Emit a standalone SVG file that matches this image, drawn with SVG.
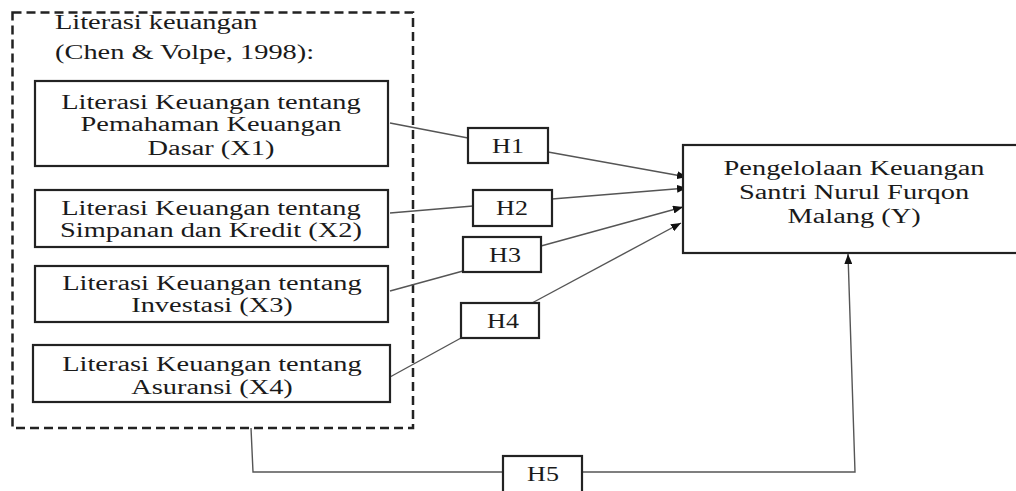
<svg xmlns="http://www.w3.org/2000/svg" width="1016" height="491" viewBox="0 0 1016 491">
<defs>
<style>
text{font-family:"Liberation Serif","Times New Roman",serif;font-size:20px;fill:#1a1a1a;text-anchor:middle;}
text.l{text-anchor:start;}
.box{fill:#fff;stroke:#222;stroke-width:2.2;}
.dash{fill:none;stroke:#222;stroke-width:2.5;stroke-dasharray:9 5;}
.con{fill:none;stroke:#555;stroke-width:1.4;}
</style>
<marker id="arr" viewBox="0 0 10 8" refX="10" refY="4" markerWidth="10" markerHeight="8" markerUnits="userSpaceOnUse" orient="auto">
<path d="M0,0 L10,4 L0,8 Z" fill="#111"/>
</marker>
</defs>
<rect width="1016" height="491" fill="#fff"/>

<g id="group-literasi">
<rect class="dash" x="12.5" y="12.5" width="400.5" height="415.5"/>
<g transform="translate(55,0) scale(1.42,1)">
<text class="l" x="0" y="29">Literasi keuangan</text>
<text class="l" x="0" y="59">(Chen &amp; Volpe, 1998):</text>
</g>
</g>

<g id="connectors">
<polyline class="con" points="390,123 468,138"/>
<polyline class="con" points="548,152 687,177" marker-end="url(#arr)"/>
<polyline class="con" points="390,213 473,206"/>
<polyline class="con" points="552,199 687,188" marker-end="url(#arr)"/>
<polyline class="con" points="390,291 463,271"/>
<polyline class="con" points="541,246 683,207" marker-end="url(#arr)"/>
<polyline class="con" points="390,377 461,338"/>
<polyline class="con" points="532,303 681,223" marker-end="url(#arr)"/>
<polyline class="con" points="251,428 253,472 503,472"/>
<polyline class="con" points="582,472 855,472 848,254" marker-end="url(#arr)"/>
</g>

<g id="x1">
<rect class="box" x="35" y="81" width="353" height="85"/>
<g transform="translate(211,0) scale(1.42,1)">
<text x="0" y="109">Literasi Keuangan tentang</text>
<text x="0" y="131">Pemahaman Keuangan</text>
<text x="0" y="155">Dasar (X1)</text>
</g>
</g>

<g id="x2">
<rect class="box" x="35" y="190" width="353" height="57"/>
<g transform="translate(211,0) scale(1.42,1)">
<text x="0" y="215">Literasi Keuangan tentang</text>
<text x="0" y="237">Simpanan dan Kredit (X2)</text>
</g>
</g>

<g id="x3">
<rect class="box" x="35" y="266" width="353" height="56"/>
<g transform="translate(212,0) scale(1.42,1)">
<text x="0" y="290">Literasi Keuangan tentang</text>
<text x="0" y="312">Investasi (X3)</text>
</g>
</g>

<g id="x4">
<rect class="box" x="33" y="345" width="357" height="57"/>
<g transform="translate(212,0) scale(1.42,1)">
<text x="0" y="371">Literasi Keuangan tentang</text>
<text x="0" y="394">Asuransi (X4)</text>
</g>
</g>

<g id="h1">
<rect class="box" x="468" y="128" width="80" height="35"/>
<g transform="translate(508,0) scale(1.3,1)"><text x="0" y="153">H1</text></g>
</g>
<g id="h2">
<rect class="box" x="473" y="190" width="79" height="36"/>
<g transform="translate(512,0) scale(1.3,1)"><text x="0" y="215">H2</text></g>
</g>
<g id="h3">
<rect class="box" x="463" y="237" width="78" height="35"/>
<g transform="translate(505,0) scale(1.3,1)"><text x="0" y="262">H3</text></g>
</g>
<g id="h4">
<rect class="box" x="461" y="303" width="78" height="35"/>
<g transform="translate(503,0) scale(1.3,1)"><text x="0" y="328">H4</text></g>
</g>
<g id="h5">
<rect class="box" x="503" y="456" width="79" height="40"/>
<g transform="translate(543,0) scale(1.3,1)"><text x="0" y="481">H5</text></g>
</g>

<g id="y">
<rect class="box" x="683" y="145" width="345" height="108"/>
<g transform="translate(854,0) scale(1.42,1)">
<text x="0" y="175">Pengelolaan Keuangan</text>
<text x="0" y="199">Santri Nurul Furqon</text>
<text x="0" y="223">Malang (Y)</text>
</g>
</g>
</svg>
